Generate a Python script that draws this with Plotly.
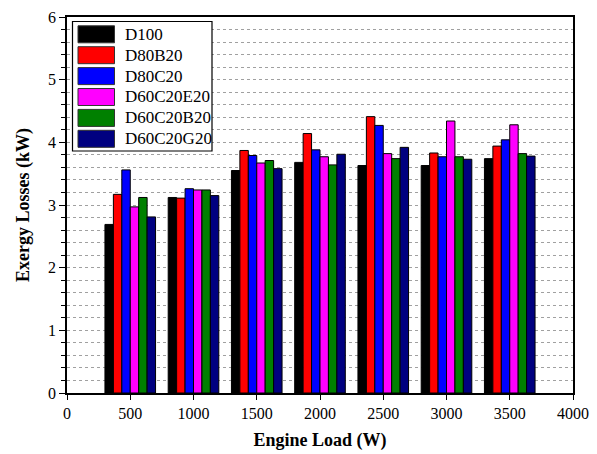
import plotly.graph_objects as go

loads = [500, 1000, 1500, 2000, 2500, 3000, 3500]
series_names = ["D100", "D80B20", "D80C20", "D60C20E20", "D60C20B20", "D60C20G20"]
colors = ["#000000", "#ff0000", "#0000ff", "#ff00ff", "#008000", "#000080"]

D100 = [2.69, 3.12, 3.55, 3.68, 3.63, 3.63, 3.74]
D80B20 = [3.17, 3.11, 3.87, 4.14, 4.41, 3.83, 3.94]
D80C20 = [3.56, 3.26, 3.79, 3.88, 4.27, 3.77, 4.04]
D60C20E20 = [2.97, 3.24, 3.67, 3.77, 3.82, 4.34, 4.28]
D60C20B20 = [3.12, 3.24, 3.71, 3.64, 3.74, 3.77, 3.82]
D60C20G20 = [2.81, 3.15, 3.58, 3.81, 3.92, 3.73, 3.78]
series_values = [D100, D80B20, D80C20, D60C20E20, D60C20B20, D60C20G20]

FONT = "Liberation Serif"
W, H = 597, 454
L, R, T, B = 67, 24, 17, 61
pw, ph = W - L - R, H - T - B

fig = go.Figure()
for name, col, vals in zip(series_names, colors, series_values):
    fig.add_trace(go.Bar(x=loads, y=vals, name=name, marker_color=col,
                         marker_line=dict(color="#000000", width=1),
                         showlegend=False))

def px_x(p):
    return (p - L) / pw

def px_y(p):
    return (H - B - p) / ph

shapes = []
annotations = []
# legend box
shapes.append(dict(type="rect", xref="paper", yref="paper",
                   x0=px_x(72.5), x1=px_x(212), y0=px_y(151), y1=px_y(21.5),
                   line=dict(color="#000000", width=1.2), fillcolor="white", layer="above"))
for i, (name, col) in enumerate(zip(series_names, colors)):
    cy = 34.3 + 20.9 * i
    shapes.append(dict(type="rect", xref="paper", yref="paper",
                       x0=px_x(78), x1=px_x(114.5), y0=px_y(cy + 8.5), y1=px_y(cy - 8.5),
                       line=dict(color="#333333", width=1), fillcolor=col, layer="above"))
    annotations.append(dict(xref="paper", yref="paper", x=px_x(123), y=px_y(cy),
                            text=name, showarrow=False, xanchor="left", yanchor="middle",
                            font=dict(family=FONT, size=17, color="#000000")))

fig.update_layout(
    width=W, height=H,
    margin=dict(l=L, r=R, t=T, b=B, autoexpand=False),
    paper_bgcolor="white", plot_bgcolor="white",
    barmode="group", bargap=0.2, bargroupgap=0,
    font=dict(family=FONT, size=16, color="#000000"),
    shapes=shapes, annotations=annotations,
    showlegend=False,
)
fig.update_xaxes(
    automargin=False,
    range=[0, 4000], tick0=0, dtick=500,
    ticks="outside", ticklen=5, tickwidth=1.2, tickcolor="#000000",
    showline=True, linecolor="#000000", linewidth=1.5, mirror=True,
    showgrid=False, zeroline=False,
    tickfont=dict(family=FONT, size=16),
    title=dict(text="<b>Engine Load (W)</b>", font=dict(family=FONT, size=18), standoff=12),
)
fig.update_yaxes(
    automargin=False,
    range=[0, 6], tick0=0, dtick=1,
    ticks="outside", ticklen=6, tickwidth=1.2, tickcolor="#000000",
    showline=True, linecolor="#000000", linewidth=1.5, mirror=True,
    showgrid=True, gridcolor="#a0a0a0", gridwidth=1, griddash="dot",
    zeroline=False,
    minor=dict(dtick=0.2, ticks="outside", ticklen=4, tickcolor="#000000",
               showgrid=True, gridcolor="#a0a0a0", gridwidth=1, griddash="dot"),
    tickfont=dict(family=FONT, size=16),
    title=dict(text="<b>Exergy Losses (kW)</b>", font=dict(family=FONT, size=18), standoff=14),
)

fig.write_html("out.html")
